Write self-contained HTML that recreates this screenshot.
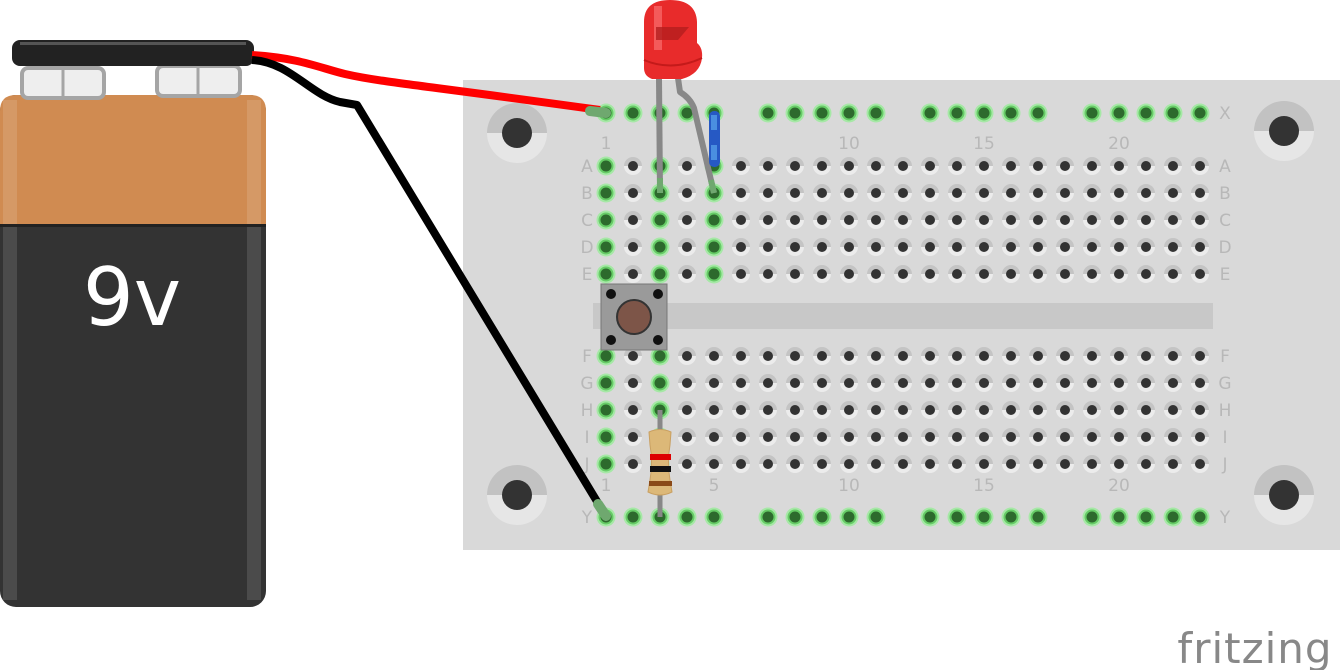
<!DOCTYPE html>
<html><head><meta charset="utf-8"><style>
html,body{margin:0;padding:0;background:#fff;width:1340px;height:670px;overflow:hidden}
svg{display:block}
text{font-family:"DejaVu Sans","Liberation Sans",sans-serif}
</style></head><body>
<svg id="s" width="1340" height="670" viewBox="0 0 1340 670" xmlns="http://www.w3.org/2000/svg">
<rect x="463" y="80" width="877" height="470" fill="#d9d9d9"/>
<rect x="593" y="303" width="620" height="26" fill="#c8c8c8"/>
<g id="mounts"></g>
<g id="holes"></g>
<g id="labels" fill="#b8b8b8" font-size="17"></g>
<!-- battery -->
<rect x="0" y="95" width="266" height="512" rx="16" fill="#333"/>
<path d="M0 225 V111 Q0 95 16 95 H250 Q266 95 266 111 V225 Z" fill="#d08b51"/>
<rect x="3" y="100" width="14" height="500" fill="#ffffff" opacity="0.12"/>
<rect x="247" y="100" width="14" height="500" fill="#ffffff" opacity="0.12"/>
<rect x="0" y="224" width="266" height="3" fill="#222"/>
<text x="132" y="325" font-size="80" fill="#fff" text-anchor="middle">9v</text>
<g fill="#eee" stroke="#a5a5a5" stroke-width="4">
<rect x="22" y="68" width="82" height="30" rx="6"/>
<rect x="157" y="66" width="83" height="30" rx="6"/>
</g>
<line x1="63" y1="68" x2="63" y2="98" stroke="#a5a5a5" stroke-width="3"/>
<line x1="198" y1="66" x2="198" y2="96" stroke="#a5a5a5" stroke-width="3"/>
<rect x="12" y="40" width="242" height="26" rx="8" fill="#222"/>
<rect x="20" y="42" width="226" height="3" fill="#555"/>
<path d="M252 55 C300 58 320 68 345 74 C380 82 420 85 600 110" stroke="#f00" stroke-width="8" fill="none"/>
<path d="M252 60 C290 62 310 95 340 102 L357 105 L604 513" stroke="#000" stroke-width="8" fill="none" stroke-linejoin="round"/>
<line x1="590" y1="111" x2="606" y2="113" stroke="#6fa86f" stroke-width="10" stroke-linecap="round"/>
<line x1="598" y1="504" x2="606" y2="516" stroke="#6fa86f" stroke-width="10" stroke-linecap="round"/>
<!-- button -->
<rect x="601" y="284" width="66" height="66" fill="#9a9a9a" stroke="#777" stroke-width="1"/>
<circle cx="634" cy="317" r="17" fill="#7d5548" stroke="#333" stroke-width="2"/>
<g fill="#111"><circle cx="611" cy="294" r="5"/><circle cx="658" cy="294" r="5"/><circle cx="611" cy="340" r="5"/><circle cx="658" cy="340" r="5"/></g>
<!-- LED legs -->
<path d="M659 78 L660 193" stroke="#888" stroke-width="6" fill="none"/>
<path d="M678 78 L680 92 Q690 98 694 108 L714 193" stroke="#888" stroke-width="6" fill="none" stroke-linejoin="round"/>
<line x1="660" y1="178" x2="660" y2="193" stroke="#6fa86f" stroke-width="6"/>
<line x1="711" y1="180" x2="714" y2="193" stroke="#6fa86f" stroke-width="6"/>
<!-- LED -->
<path d="M644 68 V22 Q644 0 670 0 Q696 0 697 22 V43 Q703 48 702 58 Q700 74 682 79 L652 79 Q644 76 644 68 Z" fill="#e82b2b"/>
<path d="M644 60 Q672 72 702 58" stroke="#c41a1a" stroke-width="2" fill="none"/>
<rect x="654" y="6" width="8" height="44" fill="#ff8a8a" opacity="0.5"/>
<path d="M656 27 H689 L678 40 H656 Z" fill="#b41e1e" opacity="0.8"/>
<!-- jumper -->
<rect x="709" y="111" width="11" height="56" rx="5" fill="#2659c4"/>
<rect x="711" y="115" width="6" height="15" fill="#4a8fe0"/>
<rect x="711" y="145" width="6" height="15" fill="#4a8fe0"/>
<!-- resistor -->
<line x1="660" y1="410" x2="660" y2="517" stroke="#888" stroke-width="5"/>
<path d="M649 432 Q660 427 671 432 L670 445 Q667 462 670 480 L672 492 Q660 498 648 492 L650 480 Q653 462 650 445 Z" fill="#dcb878" stroke="#c9a062" stroke-width="1"/>
<rect x="650" y="454" width="21" height="6" fill="#d00"/>
<rect x="650" y="466" width="21" height="6" fill="#111"/>
<rect x="649" y="481" width="23" height="5" fill="#8a4a18"/>
<text x="1255" y="663" font-size="42" fill="#888" text-anchor="middle" letter-spacing="1">fritzing</text>
</svg>
<script>
const NS="http://www.w3.org/2000/svg";
function el(t,a,p){const e=document.createElementNS(NS,t);for(const k in a)e.setAttribute(k,a[k]);document.getElementById(p).appendChild(e);return e;}
[[517,133],[1284,131],[517,495],[1284,495]].forEach(([x,y])=>{
 el("path",{d:`M${x-30} ${y} A30 30 0 0 1 ${x+30} ${y} Z`,fill:"#c2c2c2"},"mounts");
 el("path",{d:`M${x-30} ${y} A30 30 0 0 0 ${x+30} ${y} Z`,fill:"#e6e6e6"},"mounts");
 el("circle",{cx:x,cy:y,r:15,fill:"#333"},"mounts");
});
function hole(x,y,g){
 if(g){el("circle",{cx:x,cy:y,r:9.5,fill:"#a6e8a6"},"holes");el("circle",{cx:x,cy:y,r:7.5,fill:"#66cc66"},"holes");el("circle",{cx:x,cy:y,r:5.5,fill:"#2d6a2d"},"holes");}
 else{el("path",{d:`M${x-9} ${y} A9 9 0 0 1 ${x+9} ${y} Z`,fill:"#c4c4c4"},"holes");el("path",{d:`M${x-9} ${y} A9 9 0 0 0 ${x+9} ${y} Z`,fill:"#ececec"},"holes");el("circle",{cx:x,cy:y,r:5,fill:"#333"},"holes");}
}
const cx=c=>606+(c-1)*27;
const rows={A:166,B:193,C:220,D:247,E:274,F:356,G:383,H:410,I:437,J:464};
for(const r in rows){for(let c=1;c<=23;c++){
 const top="ABCDE".includes(r);
 let g=(c==1)||(c==3)||(c==5&&top);
 hole(cx(c),rows[r],g);
}}
[113,517].forEach(y=>{for(let c=1;c<=23;c++){if(c==6||c==12||c==18)continue;hole(cx(c),y,true);}});
function txt(x,y,s){const t=el("text",{x:x,y:y,"text-anchor":"middle"},"labels");t.textContent=s;}
for(const r in rows){txt(587,rows[r]+6,r);txt(1225,rows[r]+6,r);}
txt(587,523,"Y");txt(1225,523,"Y");txt(1225,119,"X");
[[1,"1"],[5,"5"],[10,"10"],[15,"15"],[20,"20"]].forEach(([c,s])=>{if(c!=5)txt(cx(c),149,s);txt(cx(c),491,s);});
</script>
</body></html>
